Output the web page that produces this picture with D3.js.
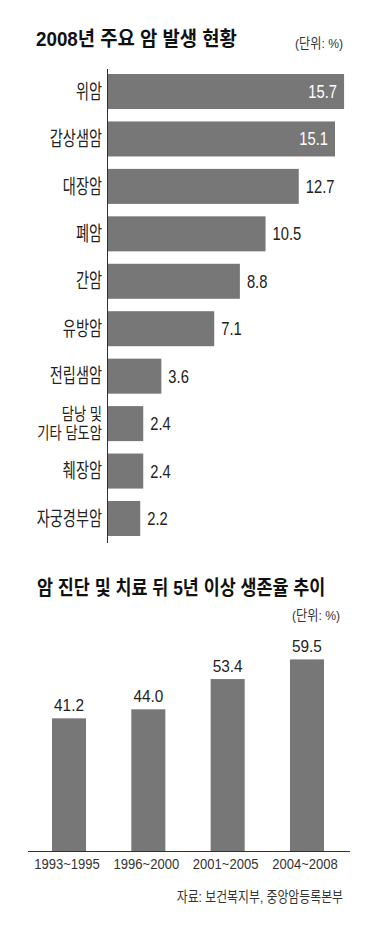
<!DOCTYPE html>
<html><head><meta charset="utf-8">
<script src="https://cdn.jsdelivr.net/npm/d3@7"></script>
<style>body{margin:0;background:#fff}svg{display:block}</style>
</head><body>
<script>
// ---- data ----
const cancerTypes = ["위암","갑상샘암","대장암","폐암","간암","유방암","전립샘암","담낭 및\n기타 담도암","췌장암","자궁경부암"];
const cancerRates = [15.7,15.1,12.7,10.5,8.8,7.1,3.6,2.4,2.4,2.2];
const periods = ["1993~1995","1996~2000","2001~2005","2004~2008"];
const survivalRates = [41.2,44.0,53.4,59.5];
const title1 = "2008년 주요 암 발생 현황";
const title2 = "암 진단 및 치료 뒤 5년 이상 생존율 추이";
const unitLabel = "(단위: %)";
const sourceLabel = "자료: 보건복지부, 중앙암등록본부";

const FONT = "'Liberation Sans', 'Noto Sans CJK KR', sans-serif";
const BAR = "#777777";

const svg = d3.select("body").append("svg").attr("width",378).attr("height",934)
  .style("font-family", FONT);

// condensed text helper
function ctext(parent, x, y, str, opt){
  const g = parent.append("g").attr("transform",`translate(${x},${y}) scale(${opt.sx||1},1)`);
  const t = g.append("text").text(str)
    .attr("font-size", opt.size).attr("fill", opt.fill||"#222")
    .attr("font-weight", opt.weight||"normal")
    .attr("text-anchor", opt.anchor||"start");
  if (opt.dy) t.attr("dy", opt.dy);
  return t;
}

// ---- chart 1 ----
ctext(svg, 36, 46, title1, {size:20, weight:"bold", sx:0.94, fill:"#111"});
ctext(svg, 343, 48, unitLabel, {size:13.5, sx:0.9, anchor:"end", fill:"#333"});

const x1 = d3.scaleLinear().domain([0,16]).range([107, 107+16*15.1]);
const y1 = d3.scaleBand().domain(cancerTypes).range([74,536]).paddingInner(0.262).paddingOuter(0);

svg.append("g").selectAll("rect").data(cancerTypes).join("rect")
  .attr("x", x1(0)).attr("y", d=>y1(d))
  .attr("width", (d,i)=>x1(cancerRates[i])-x1(0))
  .attr("height", y1.bandwidth()).attr("fill", BAR);

svg.append("line").attr("x1",107.5).attr("x2",107.5).attr("y1",69).attr("y2",543)
  .attr("stroke","#333").attr("stroke-width",1);

cancerTypes.forEach((c,i)=>{
  const cy = y1(c) + y1.bandwidth()/2;
  const lines = c.split("\n");
  const multi = lines.length > 1;
  lines.forEach((ln,j)=>{
    const off = (j - (lines.length-1)/2) * 18.5;
    ctext(svg, 102, cy+off, ln, {size: multi ? 17 : 20, sx: multi ? 0.78 : 0.71, anchor:"end", dy:"0.36em", fill:"#222"});
  });
  const v = cancerRates[i];
  const inside = v > 15;
  ctext(svg, inside ? x1(v)-7 : x1(v)+7, cy, v.toFixed(1),
    {size:18, sx:0.82, anchor: inside?"end":"start", dy:"0.36em", fill: inside?"#fff":"#222"});
});

// ---- chart 2 ----
ctext(svg, 37, 595, title2, {size:20, weight:"bold", sx:0.87, fill:"#111"});
ctext(svg, 340, 620, unitLabel, {size:13.5, sx:0.9, anchor:"end", fill:"#333"});

const x2 = d3.scaleBand().domain(periods).range([52,324]).paddingInner(0.571).paddingOuter(0);
const y2 = d3.scaleLinear().domain([0,60]).range([851, 851-60*3.22]);

svg.append("g").selectAll("rect").data(periods).join("rect")
  .attr("x", d=>x2(d)).attr("y", (d,i)=>y2(survivalRates[i]))
  .attr("width", x2.bandwidth())
  .attr("height", (d,i)=>y2(0)-y2(survivalRates[i])).attr("fill", BAR);

svg.append("line").attr("x1",28).attr("x2",350).attr("y1",851.5).attr("y2",851.5)
  .attr("stroke","#333").attr("stroke-width",1);

periods.forEach((p,i)=>{
  const cx = x2(p) + x2.bandwidth()/2;
  ctext(svg, cx, y2(survivalRates[i]) - 7, survivalRates[i].toFixed(1),
    {size:16.5, sx:0.93, anchor:"middle", fill:"#222"});
  ctext(svg, cx-2, 869, p, {size:14.5, sx:0.9, anchor:"middle", fill:"#333"});
});

ctext(svg, 343, 902, sourceLabel, {size:14.5, sx:0.82, anchor:"end", fill:"#333"});
</script>
</body></html>
